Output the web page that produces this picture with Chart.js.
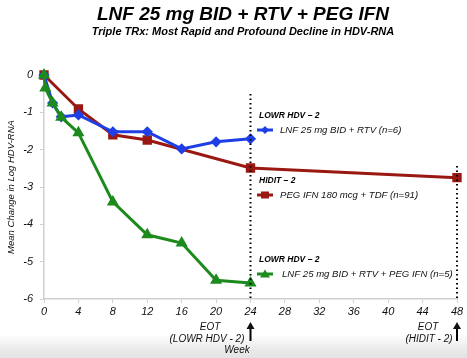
<!DOCTYPE html>
<html>
<head>
<meta charset="utf-8">
<script src="https://cdn.jsdelivr.net/npm/chart.js@4"></script>
<style>
  html, body { margin: 0; padding: 0; }
  body { width: 467px; height: 358px; background: linear-gradient(to bottom, #ffffff 0px, #ffffff 334px, #e9e9e9 350px, #e4e4e4 358px); }
  #wrap { position: relative; width: 467px; height: 358px; }
</style>
</head>
<body>
<div id="wrap"><canvas id="chart"></canvas></div>
<script>
// weeks and mean change in log HDV-RNA
const blueWeeks = [0, 1, 2, 4, 8, 12, 16, 20, 24];
const blueValues = [0, -0.75, -1.12, -1.07, -1.52, -1.52, -1.98, -1.79, -1.71];

const redWeeks = [0, 4, 8, 12, 24, 48];
const redValues = [0, -0.91, -1.6, -1.74, -2.49, -2.75];

const greenWeeks = [0, 0.15, 1, 2, 4, 8, 12, 16, 20, 24];
const greenValues = [0, -0.35, -0.75, -1.13, -1.55, -3.4, -4.28, -4.5, -5.5, -5.57];

const yTicks = [0, -1, -2, -3, -4, -5, -6];
const xTicks = [0, 4, 8, 12, 16, 20, 24, 28, 32, 36, 40, 44, 48];

const seriesNames = ['LNF 25 mg BID + RTV (n=6)', 'PEG IFN 180 mcg + TDF (n=91)', 'LNF 25 mg BID + RTV + PEG IFN (n=5)'];
const studyNames = ['LOWR HDV \u2013 2', 'HIDIT \u2013 2', 'LOWR HDV \u2013 2'];

const BLUE = '#1f3fe6';
const RED = '#9a1812';
const GREEN = '#1d8a1d';
const FONT = '"Liberation Sans", Arial, sans-serif';

function toPoints(xs, ys) {
    return xs.map((x, i) => ({ x: x, y: ys[i] }));
}

const annotations = {
    id: 'annotations',
    afterDraw(chart) {
        const ctx = chart.ctx;
        const xs = chart.scales.x;
        const ys = chart.scales.y;
        ctx.save();

        // titles
        ctx.fillStyle = '#000';
        ctx.textAlign = 'center';
        ctx.textBaseline = 'middle';
        ctx.font = 'italic bold 19px ' + FONT;
        ctx.fillText('LNF 25 mg BID + RTV + PEG IFN', 243, 15);
        ctx.font = 'italic bold 11px ' + FONT;
        ctx.fillText('Triple TRx: Most Rapid and Profound Decline in HDV-RNA', 243, 32);

        // dotted end-of-treatment lines
        ctx.strokeStyle = '#000';
        ctx.lineWidth = 2;
        ctx.setLineDash([1.5, 3]);
        ctx.beginPath();
        ctx.moveTo(xs.getPixelForValue(24), 94);
        ctx.lineTo(xs.getPixelForValue(24), ys.bottom);
        ctx.moveTo(xs.getPixelForValue(48), 166);
        ctx.lineTo(xs.getPixelForValue(48), ys.bottom);
        ctx.stroke();
        ctx.setLineDash([]);

        // EOT notes and arrows
        ctx.fillStyle = '#111';
        ctx.font = 'italic 10px ' + FONT;
        ctx.fillText('EOT', 210, 327);
        ctx.fillText('(LOWR HDV - 2)', 207, 339);
        ctx.fillText('Week', 237, 350);
        ctx.fillText('EOT', 428, 327);
        ctx.fillText('(HIDIT - 2)', 429, 339);
        [24, 48].forEach(w => {
            const px = xs.getPixelForValue(w);
            ctx.lineWidth = 2;
            ctx.beginPath();
            ctx.moveTo(px, 324);
            ctx.lineTo(px, 341);
            ctx.stroke();
            ctx.beginPath();
            ctx.moveTo(px - 4, 329);
            ctx.lineTo(px, 322);
            ctx.lineTo(px + 4, 329);
            ctx.closePath();
            ctx.fill();
        });

        // legend blocks
        const rows = [
            { y: 116, color: BLUE, style: 'diamond' },
            { y: 181, color: RED, style: 'square' },
            { y: 260, color: GREEN, style: 'triangle' }
        ];
        rows.forEach((r, i) => {
            ctx.textAlign = 'left';
            ctx.fillStyle = '#000';
            ctx.font = 'italic bold 8.5px ' + FONT;
            ctx.fillText(studyNames[i], 259, r.y);
            const ly = r.y + 14;
            ctx.strokeStyle = r.color;
            ctx.fillStyle = r.color;
            ctx.lineWidth = 3;
            ctx.beginPath();
            ctx.moveTo(257, ly);
            ctx.lineTo(273, ly);
            ctx.stroke();
            const mx = 265;
            ctx.beginPath();
            if (r.style === 'diamond') {
                ctx.moveTo(mx, ly - 4); ctx.lineTo(mx + 4, ly); ctx.lineTo(mx, ly + 4); ctx.lineTo(mx - 4, ly);
            } else if (r.style === 'square') {
                ctx.rect(mx - 4, ly - 3.5, 8, 7);
            } else {
                ctx.moveTo(mx, ly - 4.5); ctx.lineTo(mx + 5, ly + 3.5); ctx.lineTo(mx - 5, ly + 3.5);
            }
            ctx.closePath();
            ctx.fill();
            ctx.fillStyle = '#111';
            ctx.font = 'italic 9.6px ' + FONT;
            ctx.fillText(seriesNames[i], i === 2 ? 282 : 280, ly);
        });
        ctx.restore();
    }
};

const ctx = document.getElementById('chart').getContext('2d');
new Chart(ctx, {
    type: 'scatter',
    data: {
        datasets: [
            {
                label: seriesNames[0],
                data: toPoints(blueWeeks, blueValues),
                showLine: true,
                borderColor: BLUE,
                backgroundColor: BLUE,
                borderWidth: 3,
                pointStyle: 'rectRot',
                pointRadius: 3.5,
                order: 1
            },
            {
                label: seriesNames[1],
                data: toPoints(redWeeks, redValues),
                showLine: true,
                borderColor: RED,
                backgroundColor: RED,
                borderWidth: 3,
                pointStyle: 'rect',
                pointRadius: 4.5,
                order: 2
            },
            {
                label: seriesNames[2],
                data: toPoints(greenWeeks, greenValues),
                showLine: true,
                borderColor: GREEN,
                backgroundColor: GREEN,
                borderWidth: 3,
                pointStyle: 'triangle',
                pointRadius: 4,
                order: 0
            }
        ]
    },
    options: {
        responsive: true,
        maintainAspectRatio: false,
        animation: false,
        clip: false,
        layout: { padding: { left: 0, right: 10, top: 75, bottom: 0 } },
        plugins: {
            legend: { display: false },
            tooltip: { enabled: false }
        },
        scales: {
            x: {
                type: 'linear',
                min: 0,
                max: 48,
                afterBuildTicks: s => { s.ticks = xTicks.map(v => ({ value: v })); },
                afterFit: s => { s.height = 59; },
                border: { color: '#cfcfcf', width: 1.5 },
                grid: { drawOnChartArea: false, tickLength: 4, color: '#cfcfcf' },
                ticks: {
                    color: '#111',
                    padding: 2,
                    maxRotation: 0,
                    font: { family: FONT, size: 11, style: 'italic' }
                }
            },
            y: {
                type: 'linear',
                min: -6,
                max: 0,
                afterBuildTicks: s => { s.ticks = yTicks.map(v => ({ value: v })); },
                afterFit: s => { s.width = 44; },
                border: { color: '#cfcfcf', width: 1.5 },
                grid: { drawOnChartArea: false, tickLength: 4, color: '#cfcfcf' },
                title: {
                    display: true,
                    text: 'Mean Change in Log HDV-RNA',
                    color: '#111',
                    padding: { top: 6, bottom: 0 },
                    font: { family: FONT, size: 9.5, style: 'italic' }
                },
                ticks: {
                    color: '#111',
                    padding: 7,
                    font: { family: FONT, size: 11, style: 'italic' }
                }
            }
        }
    },
    plugins: [annotations]
});
</script>
</body>
</html>
